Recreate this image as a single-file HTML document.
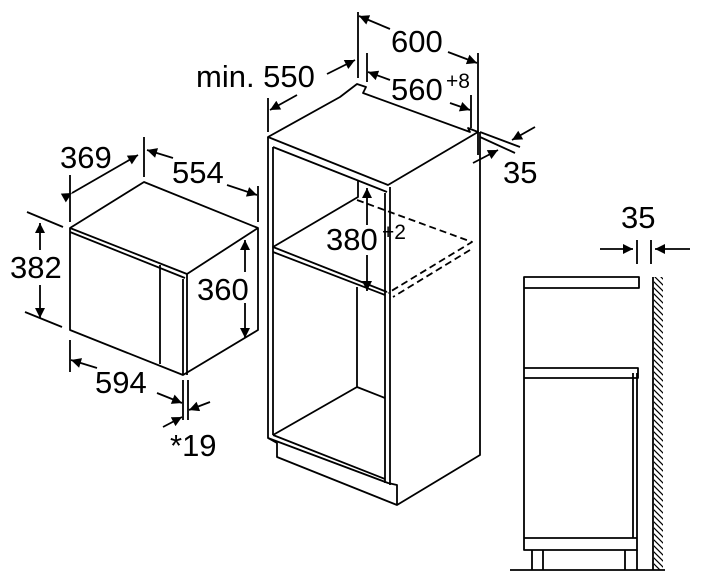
<!DOCTYPE html>
<html><head><meta charset="utf-8"><style>
html,body{margin:0;padding:0;background:#fff;}
svg{display:block;}
text{font-family:"Liberation Sans",sans-serif;fill:#000;}
</style></head><body>
<svg width="701" height="582" viewBox="0 0 701 582" xmlns="http://www.w3.org/2000/svg">
<defs>
<marker id="a" viewBox="0 0 10 10" refX="10" refY="5" markerWidth="15" markerHeight="10" markerUnits="userSpaceOnUse" orient="auto"><path d="M0,0L10,5L0,10z" fill="#000"/></marker>
<pattern id="h" width="6" height="6" patternUnits="userSpaceOnUse"><path d="M0,0L6,6M-3,3L3,9M3,-3L9,3" stroke="#000" stroke-width="1.2"/></pattern>
</defs>
<g fill="none" stroke="#000" stroke-width="1.8" stroke-linejoin="round">
<path d="M70,228L144,182L258,228L258,330L183,375L70,330Z"/>
<path d="M70,228L187,274L258,228M70,232L185,278M187,274L187,375M183,279L183,375M160,265L160,364"/>
<path d="M70,175V222M144,137V177M258,186V222M27,212L63,227M25,312L62,327M70,340V372M183,380V420M188,380V420"/>
<path d="M72,193L138,155" marker-start="url(#a)" marker-end="url(#a)"/>
<path d="M173,158L147,150" marker-end="url(#a)"/>
<path d="M227,185L257,195" marker-end="url(#a)"/>
<path d="M40,250L40,223" marker-end="url(#a)"/>
<path d="M40,285L40,318" marker-end="url(#a)"/>
<path d="M245,272L245,240" marker-end="url(#a)"/>
<path d="M245,303L245,338" marker-end="url(#a)"/>
<path d="M97,368L71,360" marker-end="url(#a)"/>
<path d="M157,393L182,403" marker-end="url(#a)"/>
<path d="M210,402L189,410" marker-end="url(#a)"/>
<path d="M163,427L182,417" marker-end="url(#a)"/>
<path d="M268,137L340,97L357,84L366,87L363,93L470,132L468,128L478,132L388,185Z"/>
<path d="M268,137L268,438L277,443L277,457L397,505L480,455L480,132"/>
<path d="M273,147L273,435M273,147L387,192M390,187L390,485M385,193L385,483M268,438L388,483L397,485L397,505"/>
<path d="M273,435L357,387L385,398M357,287V387M358,180V197L273,247L387,292M273,252L385,295M273,435L385,479"/>
<path d="M357,200L472,242L388,293M470,250L393,297" stroke-dasharray="7,4"/>
<path d="M358,12V78M478,53V155M367,53V82M471,95V128M268,98V132M480,132L520,147M480,137L515,153"/>
<path d="M390,29L359,16" marker-end="url(#a)"/>
<path d="M448,52L477,63" marker-end="url(#a)"/>
<path d="M390,80L368,72" marker-end="url(#a)"/>
<path d="M450,103L470,110" marker-end="url(#a)"/>
<path d="M327,74L355,60" marker-end="url(#a)"/>
<path d="M297,95L270,110" marker-end="url(#a)"/>
<path d="M535,127L512,140" marker-end="url(#a)"/>
<path d="M473,163L498,150" marker-end="url(#a)"/>
<path d="M367,225L367,188" marker-end="url(#a)"/>
<path d="M367,255L367,291" marker-end="url(#a)"/>
<path d="M524,277H639V288H524ZM524,288V550H637V373M524,368H638V378H524M524,538H637M633,373V538"/>
<path d="M532,550V570M543,550V570M625,550V570M637,550V570M510,570H665M653,277V570M637,240V264M651,240V264"/>
<path d="M600,249L633,249" marker-end="url(#a)"/>
<path d="M690,249L655,249" marker-end="url(#a)"/>
</g>
<rect x="654" y="277" width="9" height="293" fill="url(#h)"/>
<g font-size="31">
<text x="60" y="168">369</text>
<text x="172" y="183">554</text>
<text x="10" y="278">382</text>
<text x="197" y="300">360</text>
<text x="95" y="393">594</text>
<text x="170" y="456">*19</text>
<text x="196" y="87">min. 550</text>
<text x="391" y="52">600</text>
<text x="391" y="100">560</text>
<text x="326" y="250">380</text>
<text x="503" y="183">35</text>
<text x="621" y="228">35</text>
</g>
<g font-size="21">
<text x="446" y="88">+8</text>
<text x="382" y="239">+2</text>
</g>
</svg>
</body></html>
